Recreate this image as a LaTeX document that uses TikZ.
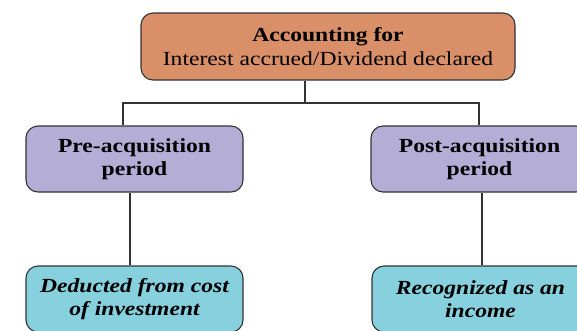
\documentclass[tikz,border=0pt]{standalone}
\usepackage{fontspec}
\setmainfont{Liberation Serif}[FakeStretch=1.18]
\definecolor{topc}{RGB}{217,143,104}
\definecolor{midc}{RGB}{180,174,214}
\definecolor{botc}{RGB}{135,208,222}
\definecolor{edgec}{RGB}{50,50,50}
\begin{document}
\begin{tikzpicture}[x=1pt,y=-1pt,
  boxbase/.style={draw=edgec,line width=1.1pt,rounded corners=12pt,align=center,inner sep=0pt,font=\fontsize{20}{24.5}\selectfont},
  topbox/.style={boxbase,fill=topc},
  midbox/.style={boxbase,fill=midc,font=\fontsize{20}{23}\selectfont\bfseries},
  botbox/.style={boxbase,fill=botc,font=\fontsize{20}{23}\selectfont\bfseries\itshape},
  conn/.style={draw=edgec,line width=1.1pt}]
\useasboundingbox (0,0) rectangle (577,330);
\clip (0,0) rectangle (577,330);
\node[topbox,minimum width=374pt,minimum height=67pt] (top) at (328,46.5) {\textbf{Accounting for}\\Interest accrued/Dividend declared};
\node[midbox,minimum width=217pt,minimum height=66pt] (pre) at (134.5,159) {Pre-acquisition\\period};
\node[midbox,minimum width=217pt,minimum height=66pt] (post) at (479.5,159) {Post-acquisition\\period};
\node[botbox,minimum width=217pt,minimum height=66pt] (ded) at (134.5,299) {Deducted from cost\\of investment};
\node[botbox,minimum width=217pt,minimum height=66pt] (rec) at (480.5,299) {Recognized as an\\income};
\coordinate (bus) at (305,103);
\coordinate (busl) at (123,103);
\coordinate (busr) at (479,103);
\draw[conn] (top.south -| bus) -- (bus);
\draw[conn] (busl |- pre.north) -- (busl) -- (busr) -- (busr |- post.north);
\draw[conn] (pre.south -| 130,0) -- (ded.north -| 130,0);
\draw[conn] (post.south -| 482,0) -- (rec.north -| 482,0);
\end{tikzpicture}
\end{document}
